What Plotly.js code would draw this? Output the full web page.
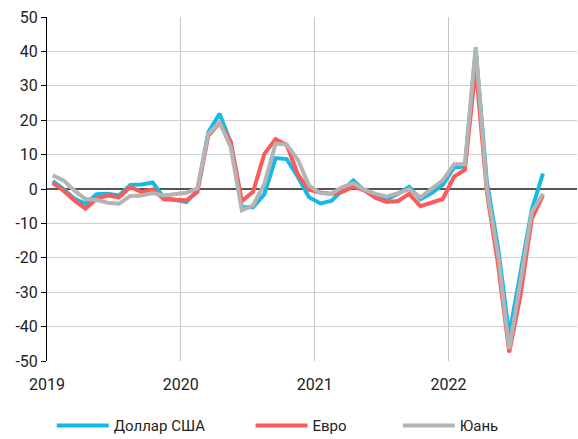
<!DOCTYPE html>
<html>
<head>
<meta charset="utf-8">
<script src="https://cdn.plot.ly/plotly-3.0.1.min.js"></script>
<style>html,body{margin:0;padding:0;background:#fff;}#chart{width:578px;height:439px;}</style>
</head>
<body>
<div id="chart"></div>
<script>
// Months Jan 2019 - Sep 2022
const months = [
  "2019-01","2019-02","2019-03","2019-04","2019-05","2019-06","2019-07","2019-08","2019-09","2019-10","2019-11","2019-12",
  "2020-01","2020-02","2020-03","2020-04","2020-05","2020-06","2020-07","2020-08","2020-09","2020-10","2020-11","2020-12",
  "2021-01","2021-02","2021-03","2021-04","2021-05","2021-06","2021-07","2021-08","2021-09","2021-10","2021-11","2021-12",
  "2022-01","2022-02","2022-03","2022-04","2022-05","2022-06","2022-07","2022-08","2022-09"
];
const usd = [2.3,0,-2.8,-4.3,-1.5,-1.4,-1.9,1.2,1.3,1.9,-2.5,-3,
  -3.8,-0.4,16.5,21.9,13.5,-5.3,-5.3,-1.5,9,8.7,3.5,-2.4,
  -4.2,-3.5,-0.4,2.5,-0.4,-1.7,-3,-1.4,0.6,-3,-1.2,1.2,
  6.3,6.5,40.5,2,-17,-42.5,-24,-6,4.5];
const eur = [1.8,-0.5,-3.3,-5.7,-2.8,-1.9,-2.4,0.6,-0.9,-0.1,-3,-3.1,
  -3.3,-0.9,15.5,19.2,13.8,-3.5,-0.8,10.2,14.5,12.8,4.2,-0.2,
  -1,-1.4,-0.9,0.7,-0.4,-2.6,-3.8,-3.5,-1.4,-5,-4,-2.9,
  3.6,5.6,35.5,-1,-22,-47.5,-31,-8.7,-1.9];
const cny = [4,2.5,-0.4,-2.9,-3.2,-4,-4.3,-2,-1.9,-1.2,-1.9,-1.5,
  -1.1,0.2,16,19.4,12.2,-6.2,-4.8,1.5,13.2,12.9,8.5,1,
  -1.2,-1.4,0.5,1.7,-0.2,-1.4,-2.2,-1.2,-0.1,-2.4,0,2.5,
  7.2,7.2,41.2,0,-19,-46.5,-27,-6.7,-1.4];
const seriesNames = ["Доллар США","Евро","Юань"];
const yTicks = [-50,-40,-30,-20,-10,0,10,20,30,40,50];
const yTickLabels = ["-50","-40","-30","-20","-10","0","10","20","30","40","50"];
const yearTicks = ["2019-01-01","2020-01-01","2021-01-01","2022-01-01"];
const yearLabels = ["2019","2020","2021","2022"];

const colors = ["#14B9E6","#FF5A5A","#B4B4B4"];
const data = [usd, eur, cny];
const legendIds = ["legend","legend2","legend3"];
const traces = data.map((y,i)=>({
  type:"scatter", mode:"lines", x: months, y: y, name: seriesNames[i],
  xperiod:"M1", xperiodalignment:"middle",
  line:{color:colors[i], width:4, shape:"linear"},
  legend: legendIds[i]
}));

const font = {family:"Roboto, 'Open Sans', sans-serif", size:15, color:"#222"};
const tickFont = {family:"Roboto, 'Open Sans', sans-serif", size:16, color:"#222"};
const legBase = {orientation:"h", yref:"container", yanchor:"middle", y:0.03, xanchor:"left", font:font, itemwidth:52, bgcolor:"rgba(0,0,0,0)"};
const layout = {
  width:578, height:439,
  margin:{l:47, r:1, t:17, b:78, autoexpand:false},
  paper_bgcolor:"#fff", plot_bgcolor:"#fff",
  font: font,
  showlegend:true,
  legend: Object.assign({}, legBase, {x:0.009}),
  legend2: Object.assign({}, legBase, {x:0.384}),
  legend3: Object.assign({}, legBase, {x:0.662}),
  xaxis:{type:"date", range:["2019-01-01","2022-12-18"], tickvals:yearTicks, ticktext:yearLabels,
    showgrid:true, gridcolor:"#c8c8c8", gridwidth:1, showline:false, zeroline:false, ticks:"", tickfont:tickFont, ticklabelstandoff:12, automargin:false},
  yaxis:{range:[-50,50], tickvals:yTicks, ticktext:yTickLabels, showgrid:true, gridcolor:"#cfcfcf", gridwidth:1,
    showline:true, linecolor:"#000", linewidth:1, ticks:"outside", ticklen:5, tickcolor:"#000",
    zeroline:true, zerolinecolor:"#555", zerolinewidth:1.5, tickfont:tickFont, automargin:false}
};
Plotly.newPlot("chart", traces, layout, {displayModeBar:false, staticPlot:true});
</script>
</body>
</html>
